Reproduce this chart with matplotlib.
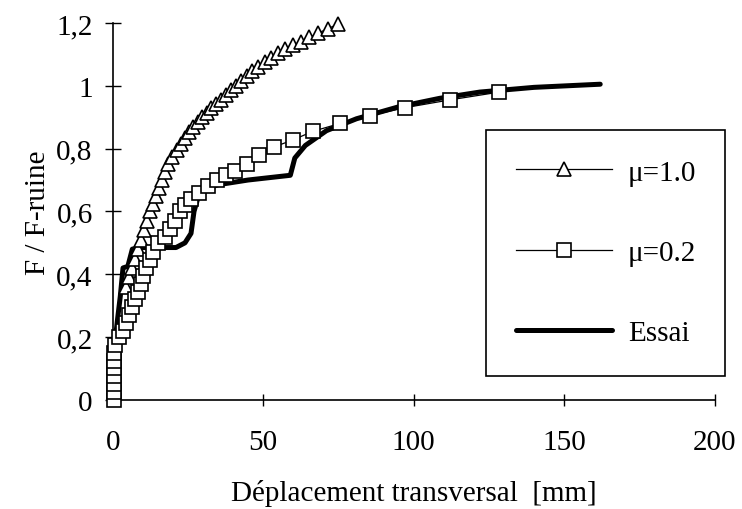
import numpy as np
import matplotlib
matplotlib.use("Agg")
import matplotlib.pyplot as plt

# mu = 1.0 (triangles)
mu10_x = [4.5, 5.5, 6.5, 7.3, 8.3, 9.3, 10.3, 11.3, 12.3, 13.3, 14.2, 15.2,
          16.2, 17.3, 18.5, 19.8, 21.2, 22.6, 24.0, 25.4, 26.8, 28.2, 29.7,
          31.2, 32.7, 34.3, 35.9, 37.5, 39.2, 40.9, 42.7, 44.5, 46.4, 48.4,
          50.5, 52.7, 55.0, 57.4, 59.9, 62.5, 65.3, 68.3, 71.5, 75.0]
mu10_y = [0.36, 0.39, 0.42, 0.45, 0.48, 0.51, 0.54, 0.57, 0.60, 0.625, 0.65, 0.675,
          0.70, 0.725, 0.75, 0.772, 0.794, 0.816, 0.834, 0.852, 0.868, 0.884, 0.90,
          0.914, 0.928, 0.942, 0.956, 0.97, 0.985, 1.0, 1.016, 1.031, 1.046, 1.061,
          1.076, 1.09, 1.103, 1.116, 1.129, 1.141, 1.154, 1.168, 1.182, 1.197]

# mu = 0.2 (squares)
mu02_x = [0.5, 0.5, 0.5, 0.5, 0.5, 0.5, 0.5, 0.7, 2.0, 3.5, 4.5, 5.5, 6.5, 7.5,
          8.3, 9.3, 10.2, 11.2, 12.3, 13.4, 15.0, 17.3, 19.0, 20.6, 22.3, 24.0,
          26.0, 28.5, 31.5, 34.5, 37.5, 40.5, 44.5, 48.5, 53.5, 60.0, 66.5, 75.5,
          85.5, 97.0, 112.0, 128.5]
mu02_y = [0.0, 0.025, 0.05, 0.075, 0.10, 0.125, 0.15, 0.175, 0.20, 0.22, 0.245,
          0.27, 0.295, 0.32, 0.345, 0.37, 0.395, 0.42, 0.445, 0.47, 0.50, 0.52,
          0.545, 0.57, 0.60, 0.62, 0.64, 0.66, 0.68, 0.70, 0.715, 0.73, 0.75,
          0.78, 0.805, 0.828, 0.855, 0.88, 0.905, 0.93, 0.955, 0.98]

# test curve
essai_x = [0.0, 0.7, 1.5, 2.5, 3.4, 5.0, 6.5, 9.0, 21.0, 24.0, 26.0, 27.0,
           28.5, 31.0, 35.0, 45.0, 59.0, 60.5, 64.0, 71.0, 81.0, 95.0, 108.6,
           122.0, 140.0, 162.0]
essai_y = [0.0, 0.18, 0.25, 0.33, 0.42, 0.425, 0.48, 0.485, 0.485, 0.50, 0.53,
           0.60, 0.65, 0.672, 0.685, 0.70, 0.715, 0.77, 0.81, 0.857, 0.895,
           0.933, 0.96, 0.98, 0.995, 1.005]

x_ticks = [0, 50, 100, 150, 200]
y_ticks = [0, 0.2, 0.4, 0.6, 0.8, 1.0, 1.2]
y_ticklabels = ['0', '0,2', '0,4', '0,6', '0,8', '1', '1,2']

plt.rcParams.update({
    'font.family': 'Liberation Serif',
    'font.size': 21,
    'axes.linewidth': 1.2,
})

fig = plt.figure(figsize=(7.42, 5.10), dpi=100)
ax = fig.add_axes([0.152, 0.214, 0.811, 0.739])

ax.plot(essai_x, essai_y, color='black', linewidth=3.6, solid_capstyle='round',
        solid_joinstyle='round', label='Essai', zorder=2)
ax.plot(mu10_x, mu10_y, color='black', linewidth=0.9, marker='^', markersize=10,
        markerfacecolor='white', markeredgecolor='black', markeredgewidth=1.2,
        label='\u03bc=1.0', zorder=3, clip_on=False)
ax.plot(mu02_x, mu02_y, color='black', linewidth=0.9, marker='s', markersize=9.5,
        markerfacecolor='white', markeredgecolor='black', markeredgewidth=1.2,
        label='\u03bc=0.2', zorder=4, clip_on=False)

ax.set_xlim(0, 200)
ax.set_ylim(0, 1.2)
ax.set_xticks(x_ticks)
ax.set_xticklabels([str(v) for v in x_ticks])
ax.set_yticks(y_ticks)
ax.set_yticklabels(y_ticklabels)

ax.spines['top'].set_visible(False)
ax.spines['right'].set_visible(False)
ax.tick_params(axis='y', direction='inout', length=11, width=1.0, pad=9)
ax.tick_params(axis='x', direction='inout', length=8, width=1.0, pad=17)

ax.set_xlabel('D\u00e9placement transversal  [mm]', labelpad=17)
ax.set_ylabel('F / F-ruine', labelpad=4)

handles, labels = ax.get_legend_handles_labels()
order = [1, 2, 0]
leg = ax.legend([handles[i] for i in order], [labels[i] for i in order],
                loc='upper left', bbox_to_anchor=(0.621, 0.716),
                frameon=True, fancybox=False, edgecolor='black',
                handlelength=3.3, handletextpad=0.55, labelspacing=1.85,
                borderpad=1.0, borderaxespad=0, framealpha=1)
leg.get_frame().set_linewidth(1.2)

fig.savefig('out.png', dpi=100)
